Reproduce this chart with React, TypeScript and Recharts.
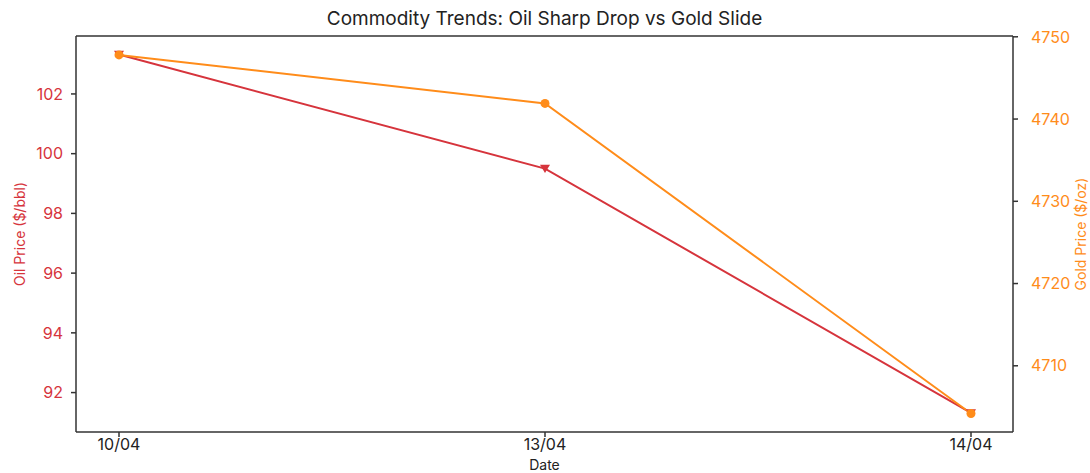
import React from "react";
import { LineChart, Line, XAxis, YAxis, ReferenceLine } from "recharts";

const dates = ["10/04", "13/04", "14/04"];
const oilPrices = [103.32, 99.5, 91.32];
const goldPrices = [4747.8, 4741.9, 4704.2];
const oilTicks = [92, 94, 96, 98, 100, 102];
const goldTicks = [4710, 4720, 4730, 4740, 4750];

const OIL = "#d6343c";
const GOLD = "#ff8c1a";
const FONT = "Inter, 'Open Sans', sans-serif";

const OIL_DOMAIN = [90.68, 103.94];
const GOLD_DOMAIN = [4701.95, 4750.1];

const data = dates.map((date, i) => ({ date, oil: oilPrices[i], gold: goldPrices[i] }));

// matplotlib "v" marker
const TriangleDown = (props: any) => {
  const { cx, cy, index } = props;
  if (cx == null || cy == null) return null;
  const s = 5;
  return (
    <path
      key={`tri-${index}`}
      d={`M${cx - s},${cy - s * 0.75} L${cx + s},${cy - s * 0.75} L${cx},${cy + s * 0.9} Z`}
      fill={OIL}
    />
  );
};

const GoldDot = (props: any) => {
  const { cx, cy, index } = props;
  if (cx == null || cy == null) return null;
  return <circle key={`dot-${index}`} cx={cx} cy={cy} r={4.5} fill={GOLD} />;
};

export default function App() {
  return (
    <div style={{ position: "absolute", left: 0, top: 0, width: 1090, height: 473, background: "#fff", fontFamily: FONT }}>
      <div
        style={{
          position: "absolute",
          top: 7,
          left: 76,
          width: 937,
          textAlign: "center",
          fontSize: 19,
          color: "#222",
        }}
      >
        Commodity Trends: Oil Sharp Drop vs Gold Slide
      </div>
      <LineChart width={1090} height={473} data={data} margin={{ top: 36, right: 0, bottom: 0, left: 0 }}>
        <XAxis
          dataKey="date"
          padding={{ left: 43, right: 42 }}
          height={41}
          stroke="#333"
          strokeWidth={1.5}
          tickSize={5}
          tickMargin={2}
          tick={{ fill: "#222", fontSize: 16, fontFamily: FONT }}
          label={{ value: "Date", position: "insideBottom", offset: 3, fill: "#222", fontSize: 14, fontFamily: FONT }}
        />
        <YAxis
          yAxisId="oil"
          width={76}
          domain={OIL_DOMAIN}
          ticks={oilTicks}
          type="number"
          allowDataOverflow
          stroke="#333"
          strokeWidth={1.5}
          tickSize={5}
          tickMargin={8}
          tick={{ fill: OIL, fontSize: 16, fontFamily: FONT }}
          label={{ value: "Oil Price ($/bbl)", angle: -90, position: "insideLeft", offset: 20, fill: OIL, fontSize: 14, fontFamily: FONT, style: { textAnchor: "middle" } }}
        />
        <YAxis
          yAxisId="gold"
          orientation="right"
          width={77}
          domain={GOLD_DOMAIN}
          ticks={goldTicks}
          type="number"
          allowDataOverflow
          stroke="#333"
          strokeWidth={1.5}
          tickSize={5}
          tickMargin={13}
          tick={{ fill: GOLD, fontSize: 16, fontFamily: FONT }}
          label={{ value: "Gold Price ($/oz)", angle: -90, position: "insideRight", offset: 9, fill: GOLD, fontSize: 14, fontFamily: FONT, style: { textAnchor: "middle" } }}
        />
        <ReferenceLine yAxisId="oil" y={OIL_DOMAIN[1]} stroke="#333" strokeWidth={1.5} />
        <Line
          yAxisId="oil"
          dataKey="oil"
          stroke={OIL}
          strokeWidth={2}
          dot={TriangleDown}
          activeDot={false}
          isAnimationActive={false}
        />
        <Line
          yAxisId="gold"
          dataKey="gold"
          stroke={GOLD}
          strokeWidth={2}
          dot={GoldDot}
          activeDot={false}
          isAnimationActive={false}
        />
      </LineChart>
    </div>
  );
}
